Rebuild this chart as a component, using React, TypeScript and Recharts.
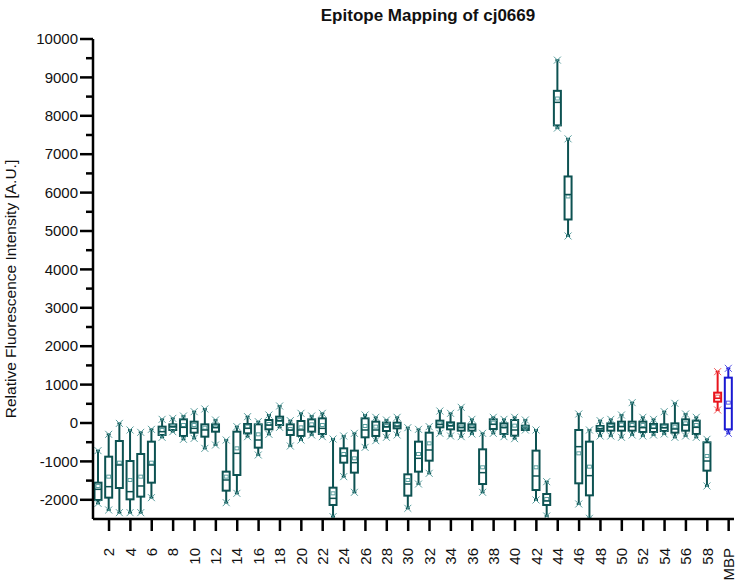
import { ComposedChart, Bar, XAxis, YAxis } from "recharts";

// peptide index 1..58, then the red control (59) and MBP (60)
const PEPTIDES = [
  1, 2, 3, 4, 5, 6, 7, 8, 9, 10, 11, 12, 13, 14, 15, 16, 17, 18, 19, 20,
  21, 22, 23, 24, 25, 26, 27, 28, 29, 30, 31, 32, 33, 34, 35, 36, 37, 38, 39, 40,
  41, 42, 43, 44, 45, 46, 47, 48, 49, 50, 51, 52, 53, 54, 55, 56, 57, 58, 59, 60,
];

const MAXS = [
  -720, -295, -10, -182, -243, -165, 95, 121, 182, 295, 365, 78, -443, -95, 165, 35, 208, 443, 61, 252,
  182, 252, -417, -338, -269, 208, 148, 78, 148, -122, -165, -95, 312, 252, 408, 95, -269, 148, 95, 148,
  78, -182, -1528, 9450, 7400, 234, -182, 61, 95, 208, 530, 148, 95, 295, 512, 234, 148, -425, 1337, 1424,
];
const Q3S = [
  -1554, -877, -469, -990, -807, -486, -95, -35, 95, 35, -35, -35, -1267, -226, -26, -35, 78, 165, -35, 52,
  95, 121, -1684, -660, -720, 121, 35, 9, 9, -1337, -486, -252, 61, 17, -9, -35, -686, 95, -9, 78,
  -69, -720, -1849, 8650, 6420, -182, -486, -78, -9, 35, 35, 35, -26, -35, -9, 95, 61, -503, 790, 1181,
];
const MEDIANS = [
  -1727, -1658, -1094, -1788, -1640, -1094, -226, -95, -113, -139, -182, -113, -1484, -790, -139, -443, -52, 61, -182, -182,
  -95, -139, -1962, -859, -1033, -182, -182, -95, -78, -1589, -920, -703, -35, -69, -113, -113, -1293, -35, -113, -182,
  -130, -1380, -2031, 8350, 5950, -616, -1371, -148, -95, -95, -95, -122, -139, -122, -156, -52, -113, -990, 642, 382,
];
const MEANS = [
  -1640, -1397, -1033, -1484, -1397, -1033, -182, -78, -52, -52, -122, -95, -1397, -660, -95, -295, -26, 78, -156, -113,
  -35, -52, -1832, -807, -920, -78, -95, -78, -52, -1484, -807, -530, -9, -52, -95, -95, -1154, 9, -95, -69,
  -113, -1154, -1979, 8450, 5900, -790, -1137, -130, -78, -43, -52, -52, -95, -95, -95, -9, -52, -859, 686, 530,
];
const Q1S = [
  -2005, -1944, -1693, -1988, -1918, -1554, -312, -182, -338, -252, -356, -226, -1762, -1354, -269, -642, -165, -52, -312, -338,
  -226, -286, -2135, -1033, -1293, -373, -338, -208, -139, -1892, -1267, -981, -113, -165, -200, -200, -1589, -156, -286, -330,
  -182, -1745, -2135, 7750, 5300, -1571, -1884, -208, -200, -200, -200, -234, -234, -208, -252, -200, -286, -1241, 556, -165,
];
const MINS = [
  -2092, -2265, -2335, -2335, -2335, -1944, -373, -226, -425, -400, -660, -573, -2075, -1832, -356, -833, -295, -113, -599, -443,
  -312, -356, -2439, -1397, -1805, -634, -460, -373, -312, -2222, -1589, -1311, -269, -338, -356, -286, -1805, -269, -356, -408,
  -182, -2005, -2422, 7680, 4870, -2109, -2482, -338, -338, -373, -312, -338, -312, -286, -373, -338, -373, -1640, 339, -269,
];

const Y_TICKS = [
  -2000, -1500, -1000, -500, 0, 500, 1000, 1500, 2000, 2500, 3000, 3500, 4000, 4500, 5000,
  5500, 6000, 6500, 7000, 7500, 8000, 8500, 9000, 9500, 10000,
];

const TEAL = { line: "#0d5252", mark: "#5a9e9e" };
const SPECIAL: Record<number, { line: string; mark: string }> = {
  59: { line: "#e8141c", mark: "#f05a5a" },
  60: { line: "#1a1ad2", mark: "#5a5ae8" },
};

const data = PEPTIDES.map((p, i) => ({
  id: p,
  range: [MINS[i], MAXS[i]],
  min: MINS[i], q1: Q1S[i], median: MEDIANS[i], mean: MEANS[i], q3: Q3S[i], max: MAXS[i],
}));

const FONT = "'Liberation Sans', Arial, sans-serif";

function BoxShape(props: any) {
  const { x, y, width, height, payload } = props;
  if (x == null || y == null) return null;
  const top = Math.min(y, y + height);
  const bot = Math.max(y, y + height);
  const k = (bot - top) / (payload.max - payload.min || 1);
  const py = (v: number) => top + (payload.max - v) * k;
  const cx = x + width / 2;
  const hw = 3.5;
  const c = SPECIAL[payload.id] || TEAL;
  const cross = (yy: number) => (
    <g stroke={c.mark} strokeWidth={1}>
      <line x1={cx - 3.5} y1={yy - 3.5} x2={cx + 3.5} y2={yy + 3.5} />
      <line x1={cx - 3.5} y1={yy + 3.5} x2={cx + 3.5} y2={yy - 3.5} />
    </g>
  );
  return (
    <g>
      <line x1={cx} y1={py(payload.max)} x2={cx} y2={py(payload.q3)} stroke={c.line} strokeWidth={2} />
      <line x1={cx} y1={py(payload.q1)} x2={cx} y2={py(payload.min)} stroke={c.line} strokeWidth={2} />
      <line x1={cx - 2} y1={py(payload.max)} x2={cx + 2} y2={py(payload.max)} stroke={c.line} strokeWidth={2} />
      <line x1={cx - 2} y1={py(payload.min)} x2={cx + 2} y2={py(payload.min)} stroke={c.line} strokeWidth={2} />
      <rect x={cx - hw} y={py(payload.q3)} width={hw * 2} height={Math.max(py(payload.q1) - py(payload.q3), 1)}
        fill="#fff" stroke={c.line} strokeWidth={2} />
      <rect x={cx - hw + 1.5} y={py(payload.mean) - 1.5} width={hw * 2 - 3} height={3}
        fill="none" stroke={c.mark} strokeWidth={1} />
      <line x1={cx - hw} y1={py(payload.median)} x2={cx + hw} y2={py(payload.median)} stroke={c.line} strokeWidth={1.5} />
      {cross(py(payload.max))}
      {cross(py(payload.min))}
    </g>
  );
}

function YTick(props: any) {
  const { x, y, payload } = props;
  const major = payload.value % 1000 === 0;
  return (
    <g>
      <line x1={major ? x + 2 : x + 8} y1={y} x2={x + 15} y2={y} stroke="#000" strokeWidth={2.5} />
      {major && (
        <text x={x} y={y} dy="0.35em" textAnchor="end" fontSize={15} fontFamily={FONT} fill="#111">
          {payload.value}
        </text>
      )}
    </g>
  );
}

function XTick(props: any) {
  const { x, y, payload } = props;
  const v = Number(payload.value);
  if (v % 2 !== 0) return null;
  const label = v === 60 ? "MBP" : String(v);
  return (
    <g>
      <line x1={x} y1={y - 29} x2={x} y2={y - 17} stroke="#000" strokeWidth={2.5} />
      <text x={x} y={y} dy="0.35em" textAnchor="end" fontSize={15} fontFamily={FONT} fill="#111"
        transform={`rotate(-90, ${x}, ${y})`}>
        {label}
      </text>
    </g>
  );
}

export default function App() {
  return (
    <div style={{ position: "absolute", left: 0, top: 0, width: 738, height: 586, background: "#fff" }}>
      <ComposedChart width={738} height={586} data={data} margin={{ top: 39, right: 4, left: 0, bottom: 0 }} barSize={8}>
        <XAxis dataKey="id" type="category" height={67} interval={0} tickSize={12} tickMargin={17}
          tickLine={false} axisLine={{ stroke: "#000", strokeWidth: 2.5 }} tick={<XTick />} />
        <YAxis type="number" domain={[-2500, 10000]} ticks={Y_TICKS} interval={0} width={93} allowDataOverflow
          tickSize={13} tickMargin={2} tickLine={false} axisLine={{ stroke: "#000", strokeWidth: 2.5 }} tick={<YTick />} />
        <Bar dataKey="range" shape={<BoxShape />} isAnimationActive={false} />
      </ComposedChart>
      <svg width={738} height={586} style={{ position: "absolute", left: 0, top: 0, pointerEvents: "none" }}>
        <text x={428} y={21} textAnchor="middle" fontSize={17} fontWeight="bold" fontFamily={FONT} fill="#111">
          Epitope Mapping of cj0669
        </text>
        <text x={16} y={289} textAnchor="middle" fontSize={15.5} fontFamily={FONT} fill="#111"
          transform="rotate(-90, 16, 289)">
          Relative Fluorescence Intensity [A.U.]
        </text>
      </svg>
    </div>
  );
}
